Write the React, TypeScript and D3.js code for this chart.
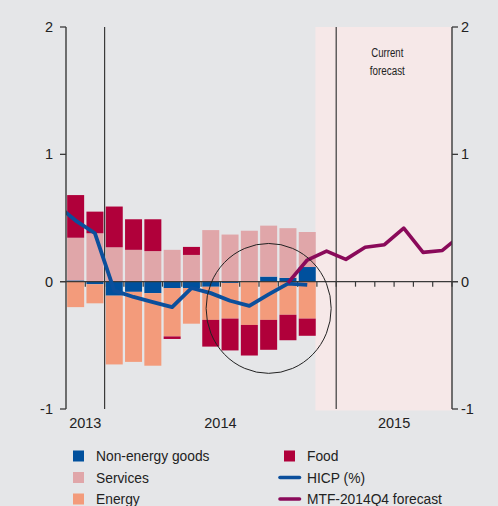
import React from 'react';
import * as d3 from 'd3';

// monthly contributions, Nov 2013 - Nov 2014
const barMonths = ['2013-11', '2013-12', '2014-01', '2014-02', '2014-03', '2014-04', '2014-05',
  '2014-06', '2014-07', '2014-08', '2014-09', '2014-10', '2014-11'];
const nonEnergyGoods = [0.01, -0.02, -0.11, -0.08, -0.09, -0.05, -0.05, -0.04, -0.01, 0.0, 0.04, 0.03, 0.115];
const services = [0.335, 0.38, 0.27, 0.25, 0.24, 0.25, 0.21, 0.405, 0.37, 0.4, 0.4, 0.39, 0.275];
const energy = [-0.2, -0.15, -0.54, -0.55, -0.57, -0.38, -0.28, -0.26, -0.28, -0.34, -0.3, -0.26, -0.29];
const food = [0.335, 0.17, 0.32, 0.24, 0.25, -0.02, 0.063, -0.21, -0.25, -0.24, -0.235, -0.2, -0.135];

// HICP line, Oct 2013 - Nov 2014
const hicpMonths = ['2013-10', '2013-11', '2013-12', '2014-01', '2014-02', '2014-03', '2014-04',
  '2014-05', '2014-06', '2014-07', '2014-08', '2014-09', '2014-10', '2014-11'];
const hicp = [0.605, 0.48, 0.38, -0.07, -0.12, -0.16, -0.2, -0.05, -0.09, -0.15, -0.19, -0.1, -0.015, -0.025];

// MTF-2014Q4 forecast, Oct 2014 - Jul 2015
const mtfMonths = ['2014-10', '2014-11', '2014-12', '2015-01', '2015-02', '2015-03', '2015-04',
  '2015-05', '2015-06', '2015-07'];
const mtf = [-0.01, 0.17, 0.24, 0.175, 0.27, 0.29, 0.42, 0.23, 0.245, 0.37];

const yTicks = [2, 1, 0, -1];
const years = [
  { label: '2013', from: '2013-11', to: '2014-01' },
  { label: '2014', from: '2014-01', to: '2015-01' },
  { label: '2015', from: '2015-01', to: '2015-07' },
];
const yearBreaks = ['2014-01', '2015-01'];
const forecastStart = '2014-12';
const axisStart = '2013-11';
const axisEnd = '2015-06';

const colors = {
  bg: '#e5e6e8',
  forecast: '#f6e8e8',
  nonEnergy: '#00509d',
  services: '#e0a6a9',
  energy: '#f39b7b',
  food: '#b0003a',
  hicp: '#0b4f9c',
  mtf: '#8a0a5a',
  axis: '#3a3a3a',
};

const font = '"Liberation Sans", Arial, sans-serif';

// month string -> index from Nov 2013
const mIdx = (s: string) => {
  const [y, m] = s.split('-').map(Number);
  return (y - 2013) * 12 + m - 11;
};

const App = () => {
  const width = 498;
  const height = 506;
  const margin = { top: 27, left: 66, right: 46, bottom: 97 };

  const x = d3.scaleLinear()
    .domain([mIdx(axisStart), mIdx(axisEnd) + 1])
    .range([margin.left, width - margin.right]);
  const y = d3.scaleLinear()
    .domain([-1, 2])
    .range([height - margin.bottom, margin.top]);

  const step = x(1) - x(0);
  const barW = step - 2.3;

  const rows = barMonths.map((m, i) => ({
    m, nonEnergy: nonEnergyGoods[i], services: services[i], energy: energy[i], food: food[i],
  }));
  const keys = ['nonEnergy', 'services', 'energy', 'food'] as const;
  const stacked = d3.stack<any>().keys(keys as any).offset(d3.stackOffsetDiverging)(rows);

  const line = d3.line<[string, number]>()
    .x(d => x(mIdx(d[0]) + 0.5))
    .y(d => y(d[1]));

  const hicpPath = line(hicpMonths.map((m, i) => [m, hicp[i]] as [string, number])) || '';
  const mtfPath = line(mtfMonths.map((m, i) => [m, mtf[i]] as [string, number])) || '';

  const x0 = x.range()[0];
  const x1 = x.range()[1];
  const monthTicks = d3.range(mIdx(axisStart) + 1, mIdx(axisEnd) + 2);

  // highlight ring around the latest negative contributions
  const ring = { month: '2014-09', value: -0.21, rMonths: 3.24, rValue: 0.51 };

  const legendLeft = [
    { label: 'Non-energy goods', color: colors.nonEnergy },
    { label: 'Services', color: colors.services },
    { label: 'Energy', color: colors.energy },
  ];
  const legendRight = [
    { label: 'Food', color: colors.food, kind: 'box' },
    { label: 'HICP (%)', color: colors.hicp, kind: 'line' },
    { label: 'MTF-2014Q4 forecast', color: colors.mtf, kind: 'line' },
  ];
  const legendY = [456, 477.5, 499];
  const noteX = x(mIdx('2015-03')) + step * 0.65;

  return (
    <div style={{ position: 'fixed', left: 0, top: 0, width, height, background: colors.bg }}>
      <svg width={width} height={height} style={{ display: 'block' }}>
        <defs>
          <clipPath id="plot">
            <rect x={x0} y={y(2)} width={x1 - x0} height={y(-1) - y(2)} />
          </clipPath>
        </defs>
        <rect width={width} height={height} fill={colors.bg} />

        {/* forecast shading */}
        <rect x={x(mIdx(forecastStart)) - 1.5} y={y(2)} width={x1 - x(mIdx(forecastStart)) + 1.5}
          height={y(-1) - y(2) + 1.5} fill={colors.forecast} />
        <text x={noteX} y={56.5} textAnchor="middle" fontFamily={font} fontSize={12.5}
          textLength={32} lengthAdjust="spacingAndGlyphs" fill="#222">Current</text>
        <text x={noteX} y={75} textAnchor="middle" fontFamily={font} fontSize={12.5}
          textLength={35} lengthAdjust="spacingAndGlyphs" fill="#222">forecast</text>

        {/* bars */}
        {stacked.map(s => (
          <g key={s.key} fill={(colors as any)[s.key]}>
            {s.map((d: any, i: number) => (
              <rect key={i} x={x(mIdx(d.data.m)) + (step - barW) / 2}
                y={y(Math.max(d[0], d[1]))} width={barW}
                height={Math.abs(y(d[0]) - y(d[1]))} />
            ))}
          </g>
        ))}

        {/* year separators */}
        {yearBreaks.map(b => (
          <line key={b} x1={x(mIdx(b))} x2={x(mIdx(b))} y1={y(2)} y2={y(-1)}
            stroke={colors.axis} strokeWidth={1.2} />
        ))}

        {/* zero line with month ticks */}
        <line x1={x0 - 6} x2={x1 + 6} y1={y(0)} y2={y(0)} stroke={colors.axis} strokeWidth={1.3} />
        {monthTicks.map(t => (
          <line key={t} x1={x(t)} x2={x(t)} y1={y(0)} y2={y(0) + 5} stroke={colors.axis} strokeWidth={1.2} />
        ))}

        {/* lines */}
        <g clipPath="url(#plot)">
          <path d={hicpPath} fill="none" stroke={colors.hicp} strokeWidth={3.8} strokeLinejoin="round" />
          <path d={mtfPath} fill="none" stroke={colors.mtf} strokeWidth={3.6} strokeLinejoin="round" />
        </g>

        {/* ring */}
        <ellipse cx={x(mIdx(ring.month) + 0.5)} cy={y(ring.value)}
          rx={ring.rMonths * step} ry={y(0) - y(ring.rValue)}
          fill="none" stroke="#222" strokeWidth={1} />

        {/* y axes */}
        <line x1={x0} x2={x0} y1={y(2)} y2={y(-1)} stroke={colors.axis} strokeWidth={1.4} />
        <line x1={x1} x2={x1} y1={y(2)} y2={y(-1)} stroke={colors.axis} strokeWidth={1.4} />
        {yTicks.map(t => (
          <g key={t}>
            <line x1={x0 - 6} x2={x0} y1={y(t)} y2={y(t)} stroke={colors.axis} strokeWidth={1.3} />
            <line x1={x1} x2={x1 + 6} y1={y(t)} y2={y(t)} stroke={colors.axis} strokeWidth={1.3} />
            <text x={x0 - 13} y={y(t) + 5} textAnchor="end" fontFamily={font} fontSize={14.5} fill="#222">{t}</text>
            <text x={x1 + 9} y={y(t) + 5} textAnchor="start" fontFamily={font} fontSize={14.5} fill="#222">{t}</text>
          </g>
        ))}

        {/* year labels */}
        {years.map(yr => (
          <text key={yr.label} x={(x(mIdx(yr.from)) + x(mIdx(yr.to))) / 2} y={428}
            textAnchor="middle" fontFamily={font} fontSize={14.5} fill="#222">{yr.label}</text>
        ))}

        {/* legend */}
        {legendLeft.map((l, i) => (
          <g key={l.label}>
            <rect x={73} y={legendY[i] - 5.5} width={11} height={11} fill={l.color} />
            <text x={96} y={legendY[i] + 5} fontFamily={font} fontSize={13.8} fill="#222">{l.label}</text>
          </g>
        ))}
        {legendRight.map((l, i) => (
          <g key={l.label}>
            {l.kind === 'box'
              ? <rect x={284} y={legendY[i] - 5.5} width={11} height={11} fill={l.color} />
              : <line x1={280} x2={299.5} y1={legendY[i]} y2={legendY[i]} stroke={l.color}
                  strokeWidth={3.6} strokeLinecap="round" />}
            <text x={307} y={legendY[i] + 5} fontFamily={font} fontSize={13.8} fill="#222">{l.label}</text>
          </g>
        ))}
      </svg>
    </div>
  );
};

export default App;
